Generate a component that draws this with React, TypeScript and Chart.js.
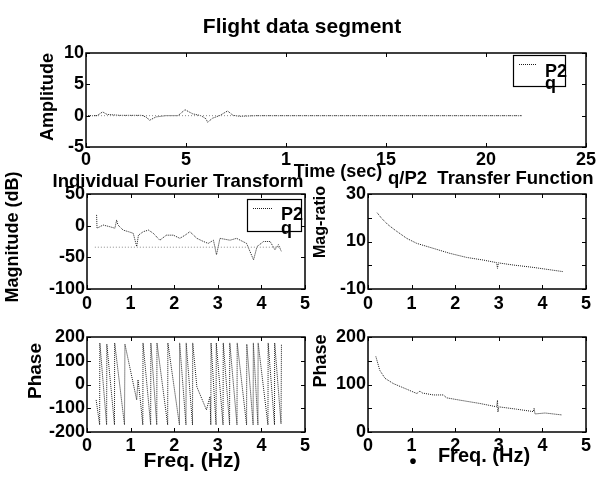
import React, { useEffect, useRef } from "react";
import { Chart, registerables } from "chart.js";

Chart.register(...registerables);

const FONT = '"Liberation Sans", Arial, Helvetica, sans-serif';
const W = 602;
const H = 479;

// ---------- Top panel: flight data segment (time history) ----------
const timeSec = [0, 0.55, 0.83, 1.05, 1.7, 2.8, 3.05, 3.17, 3.5, 4.0, 4.6, 4.95, 5.33, 5.75, 6.0, 6.08, 6.33, 6.67, 7.08, 7.35, 7.7, 8.5, 10, 12, 14, 16, 18, 20, 21.8];
const p2Amplitude = [0, 0, 0.6, 0.2, 0.05, 0.05, -0.3, -0.75, -0.2, 0, 0, 0.95, 0.3, 0, -0.5, -1.05, -0.4, 0, 0.75, 0.05, -0.1, 0, 0, 0, 0, 0, 0, 0, 0];
const qTimeSec = [0, 21.8];
const qAmplitude = [0, 0];
const timeTicks = [0, 5, 10, 15, 20, 25];
const timeTickLabels = ["0", "5", "1", "15", "20", "25"];
const ampTicks = [-5, 0, 5, 10];
const ampTickLabels = ["-5", "0", "5", "10"];

// ---------- Individual Fourier transform magnitude ----------
const magFreq = [0.22, 0.23, 0.37, 0.52, 0.64, 0.68, 0.71, 0.83, 0.95, 1.06, 1.14, 1.18, 1.29, 1.41, 1.52, 1.67, 1.82, 1.98, 2.13, 2.25, 2.36, 2.52, 2.67, 2.78, 2.9, 2.97, 3.05, 3.28, 3.43, 3.66, 3.82, 3.9, 4.05, 4.2, 4.31, 4.39, 4.46];
const magP2 = [17, -4, 1, -1.6, -4, 9, 1, -7, -9.5, -12, -33, -15, -9.5, -7, -12, -23, -15, -15, -20, -15, -9.5, -20, -25, -28, -23, -46, -20, -23, -20, -28, -54, -33, -25, -25, -38, -30, -41];
const magQFreq = [0.18, 4.45];
const magQ = [-34, -34];
const freqTicks = [0, 1, 2, 3, 4, 5];
const freqTickLabels = ["0", "1", "2", "3", "4", "5"];
const magTicks = [-100, -50, 0, 50];
const magTickLabels = ["-100", "-50", "0", "50"];

// ---------- q/P2 transfer function magnitude ratio ----------
const ratioFreq = [0.21, 0.31, 0.45, 0.62, 0.89, 1.12, 1.5, 1.88, 2.26, 2.64, 2.95, 2.97, 2.99, 3.33, 3.79, 4.48];
const ratioVal = [22.1, 19.8, 17.2, 14.8, 11.3, 9.2, 7.1, 5.0, 3.3, 2.2, 1.1, -1.3, 1.0, 0.1, -0.9, -2.7];
const ratioTicks = [-10, 0, 10, 20, 30];
const ratioTickLabels = ["-10", "", "10", "", "30"];

// ---------- Individual phase ----------
const phaseFreq = [0.21, 0.29, 0.295, 0.45, 0.455, 0.63, 0.635, 0.86, 0.87, 1.14, 1.17, 1.22, 1.28, 1.285, 1.46, 1.465, 1.6, 1.605, 1.85, 1.855, 2.12, 2.125, 2.27, 2.275, 2.42, 2.425, 2.52, 2.74, 2.82, 2.84, 2.845, 2.96, 2.965, 3.12, 3.125, 3.27, 3.275, 3.44, 3.445, 3.66, 3.665, 3.81, 3.815, 3.92, 3.925, 4.15, 4.155, 4.3, 4.305, 4.45, 4.46];
const phaseDeg = [-65, -170, 175, -170, 170, -170, 175, -170, 170, -65, 20, -60, -170, 175, -170, 175, -170, 175, -170, 175, -170, 175, -170, 175, -170, 175, -10, -107, -51, -170, 175, -170, 175, -170, 175, -170, 175, -170, 175, -170, 170, -170, 175, -170, 175, -170, 175, -170, 175, -165, 170];
const phaseTicks = [-200, -100, 0, 100, 200];
const phaseTickLabels = ["-200", "-100", "0", "100", "200"];

// ---------- Transfer function phase ----------
const tfPhaseFreq = [0.18, 0.27, 0.39, 0.58, 0.89, 1.12, 1.19, 1.25, 1.5, 1.73, 1.8, 2.11, 2.57, 2.95, 2.97, 2.98, 3.0, 3.41, 3.79, 3.81, 3.83, 4.06, 4.44];
const tfPhaseDeg = [159, 130, 113, 102, 90, 81, 86, 82, 78, 78, 72, 67, 60, 53, 67, 42, 53, 48, 43, 50, 38, 40, 36];
const tfPhaseTicks = [0, 50, 100, 150, 200];
const tfPhaseTickLabels = ["0", "", "100", "", "200"];

const seriesNames = ["P2", "q"];

// ---------- styles ----------
const P2_STYLE = { color: "#1c1c1c", dash: [1, 1] };
const Q_STYLE = { color: "#8a8a8a", dash: [1, 2] };

type Series = { x: number[]; y: number[]; color: string; dash: number[] };
type Txt = { text: string; x: number; y: number; size: number; rot?: boolean; align?: CanvasTextAlign; baseline?: CanvasTextBaseline };
type Leg = { box: [number, number, number, number]; sample: [number, number, number]; labels: { text: string; x: number; y: number }[] };
type PanelDef = {
  area: [number, number, number, number];
  xTicks: number[];
  xLabels: string[];
  xPad: number;
  yTicks: number[];
  yLabels: string[];
  series: Series[];
  legend?: Leg;
  texts: Txt[];
};

const PANELS: PanelDef[] = [
  {
    area: [86, 53, 586, 147],
    xTicks: timeTicks, xLabels: timeTickLabels, xPad: 2,
    yTicks: ampTicks, yLabels: ampTickLabels,
    series: [
      { x: qTimeSec, y: qAmplitude, ...Q_STYLE },
      { x: timeSec, y: p2Amplitude, ...P2_STYLE },
    ],
    legend: { box: [513, 55, 565, 86], sample: [519, 537, 64], labels: [{ text: seriesNames[0], x: 545, y: 77 }, { text: seriesNames[1], x: 545, y: 89 }] },
    texts: [
      { text: "Flight data segment", x: 302, y: 33, size: 21, align: "center", baseline: "alphabetic" },
      { text: "Amplitude", x: 48, y: 97, size: 18, rot: true },
      { text: "Time (sec)", x: 338, y: 177, size: 18, align: "center", baseline: "alphabetic" },
    ],
  },
  {
    area: [87, 194, 305, 289],
    xTicks: freqTicks, xLabels: freqTickLabels, xPad: 4,
    yTicks: magTicks, yLabels: magTickLabels,
    series: [
      { x: magQFreq, y: magQ, ...Q_STYLE },
      { x: magFreq, y: magP2, ...P2_STYLE },
    ],
    legend: { box: [247, 199, 301, 231], sample: [253, 272, 208], labels: [{ text: seriesNames[0], x: 281, y: 220 }, { text: seriesNames[1], x: 281, y: 234 }] },
    texts: [
      { text: "Individual Fourier Transform", x: 178, y: 187, size: 18.5, align: "center", baseline: "alphabetic" },
      { text: "Magnitude (dB)", x: 13, y: 237, size: 18, rot: true },
    ],
  },
  {
    area: [368, 194, 586, 289],
    xTicks: freqTicks, xLabels: freqTickLabels, xPad: 4,
    yTicks: ratioTicks, yLabels: ratioTickLabels,
    series: [{ x: ratioFreq, y: ratioVal, ...P2_STYLE }],
    texts: [
      { text: "q/P2  Transfer Function", x: 388, y: 184, size: 18.5, align: "left", baseline: "alphabetic" },
      { text: "Mag-ratio", x: 321, y: 222, size: 16, rot: true },
    ],
  },
  {
    area: [87, 337, 305, 432],
    xTicks: freqTicks, xLabels: freqTickLabels, xPad: 3,
    yTicks: phaseTicks, yLabels: phaseTickLabels,
    series: [{ x: phaseFreq, y: phaseDeg, ...P2_STYLE }],
    texts: [
      { text: "Phase", x: 36, y: 371, size: 19, rot: true },
      { text: "Freq. (Hz)", x: 192, y: 467, size: 21, align: "center", baseline: "alphabetic" },
    ],
  },
  {
    area: [368, 337, 586, 432],
    xTicks: freqTicks, xLabels: freqTickLabels, xPad: 3,
    yTicks: tfPhaseTicks, yLabels: tfPhaseTickLabels,
    series: [{ x: tfPhaseFreq, y: tfPhaseDeg, ...P2_STYLE }],
    texts: [
      { text: "Phase", x: 321, y: 361, size: 18, rot: true },
      { text: "Freq. (Hz)", x: 484, y: 462, size: 20, align: "center", baseline: "alphabetic" },
      { text: "•", x: 413, y: 462, size: 20, align: "center", baseline: "middle" },
    ],
  },
];

function panelPlugin(p: PanelDef) {
  return {
    id: "panelDeco",
    afterDraw(chart: any) {
      const ctx: CanvasRenderingContext2D = chart.ctx;
      const a = chart.chartArea;
      const xs = chart.scales.x;
      const ys = chart.scales.y;
      ctx.save();
      ctx.setLineDash([]);
      ctx.strokeStyle = "#000";
      ctx.lineWidth = 1.5;
      ctx.strokeRect(a.left, a.top, a.right - a.left, a.bottom - a.top);
      ctx.lineWidth = 1;
      const TL = 4;
      ctx.beginPath();
      xs.ticks.forEach((t: any) => {
        const px = Math.round(xs.getPixelForValue(t.value)) + 0.5;
        ctx.moveTo(px, a.bottom); ctx.lineTo(px, a.bottom - TL);
        ctx.moveTo(px, a.top); ctx.lineTo(px, a.top + TL);
      });
      ys.ticks.forEach((t: any) => {
        const py = Math.round(ys.getPixelForValue(t.value)) + 0.5;
        ctx.moveTo(a.left, py); ctx.lineTo(a.left + TL, py);
        ctx.moveTo(a.right, py); ctx.lineTo(a.right - TL, py);
      });
      ctx.stroke();

      if (p.legend) {
        const [bl, bt, br, bb] = p.legend.box;
        ctx.fillStyle = "#fff";
        ctx.fillRect(bl, bt, br - bl, bb - bt);
        ctx.strokeStyle = "#000";
        ctx.lineWidth = 1.2;
        ctx.strokeRect(bl + 0.5, bt + 0.5, br - bl, bb - bt);
        const [sx0, sx1, sy] = p.legend.sample;
        ctx.strokeStyle = P2_STYLE.color;
        ctx.lineWidth = 1;
        ctx.setLineDash(P2_STYLE.dash);
        ctx.beginPath();
        ctx.moveTo(sx0, sy + 0.5);
        ctx.lineTo(sx1, sy + 0.5);
        ctx.stroke();
        ctx.setLineDash([]);
        ctx.fillStyle = "#000";
        ctx.font = `bold 18px ${FONT}`;
        ctx.textAlign = "left";
        ctx.textBaseline = "alphabetic";
        p.legend.labels.forEach((l) => ctx.fillText(l.text, l.x, l.y));
      }

      ctx.fillStyle = "#000";
      p.texts.forEach((t) => {
        ctx.save();
        ctx.font = `bold ${t.size}px ${FONT}`;
        if (t.rot) {
          ctx.translate(t.x, t.y);
          ctx.rotate(-Math.PI / 2);
          ctx.textAlign = "center";
          ctx.textBaseline = "middle";
          ctx.fillText(t.text, 0, 0);
        } else {
          ctx.textAlign = t.align || "center";
          ctx.textBaseline = t.baseline || "alphabetic";
          ctx.fillText(t.text, t.x, t.y);
        }
        ctx.restore();
      });
      ctx.restore();
    },
  };
}

function buildConfig(p: PanelDef): any {
  const [l, t, r, b] = p.area;
  const YW = 60;
  const XH = 30;
  const tickFont = { family: FONT, size: 18, weight: "bold" as const };
  return {
    type: "line",
    data: {
      datasets: p.series.map((s) => ({
        data: s.x.map((x, i) => ({ x, y: s.y[i] })),
        borderColor: s.color,
        borderWidth: 1,
        borderDash: s.dash,
        pointRadius: 0,
        tension: 0,
        fill: false,
      })),
    },
    options: {
      responsive: false,
      animation: false,
      devicePixelRatio: 1,
      events: [],
      layout: { padding: { left: l - YW, top: t, right: W - r, bottom: H - b - XH } },
      plugins: { legend: { display: false }, tooltip: { enabled: false }, title: { display: false } },
      scales: {
        x: {
          type: "linear",
          position: "bottom",
          min: p.xTicks[0],
          max: p.xTicks[p.xTicks.length - 1],
          afterBuildTicks: (s: any) => { s.ticks = p.xTicks.map((v) => ({ value: v })); },
          afterFit: (s: any) => { s.height = XH; },
          ticks: {
            autoSkip: false, maxRotation: 0, minRotation: 0, padding: p.xPad, color: "#000", font: tickFont,
            callback: (_v: any, i: number) => p.xLabels[i] ?? "",
          },
          grid: { display: false, drawTicks: false },
          border: { display: false },
        },
        y: {
          type: "linear",
          position: "left",
          min: p.yTicks[0],
          max: p.yTicks[p.yTicks.length - 1],
          afterBuildTicks: (s: any) => { s.ticks = p.yTicks.map((v) => ({ value: v })); },
          afterFit: (s: any) => { s.width = YW; },
          ticks: {
            autoSkip: false, padding: 2, color: "#000", font: tickFont,
            callback: (_v: any, i: number) => p.yLabels[i] ?? "",
          },
          grid: { display: false, drawTicks: false },
          border: { display: false },
        },
      },
    },
    plugins: [panelPlugin(p)],
  };
}

export default function App() {
  const refs = useRef<(HTMLCanvasElement | null)[]>([]);
  useEffect(() => {
    const charts = PANELS.map((p, i) => new Chart(refs.current[i] as HTMLCanvasElement, buildConfig(p)));
    return () => charts.forEach((c) => c.destroy());
  }, []);
  return (
    <div style={{ position: "fixed", left: 0, top: 0, width: W, height: H, background: "#fff", overflow: "hidden" }}>
      {PANELS.map((_, i) => (
        <canvas
          key={i}
          ref={(el) => { refs.current[i] = el; }}
          width={W}
          height={H}
          style={{ position: "absolute", left: 0, top: 0 }}
        />
      ))}
    </div>
  );
}
